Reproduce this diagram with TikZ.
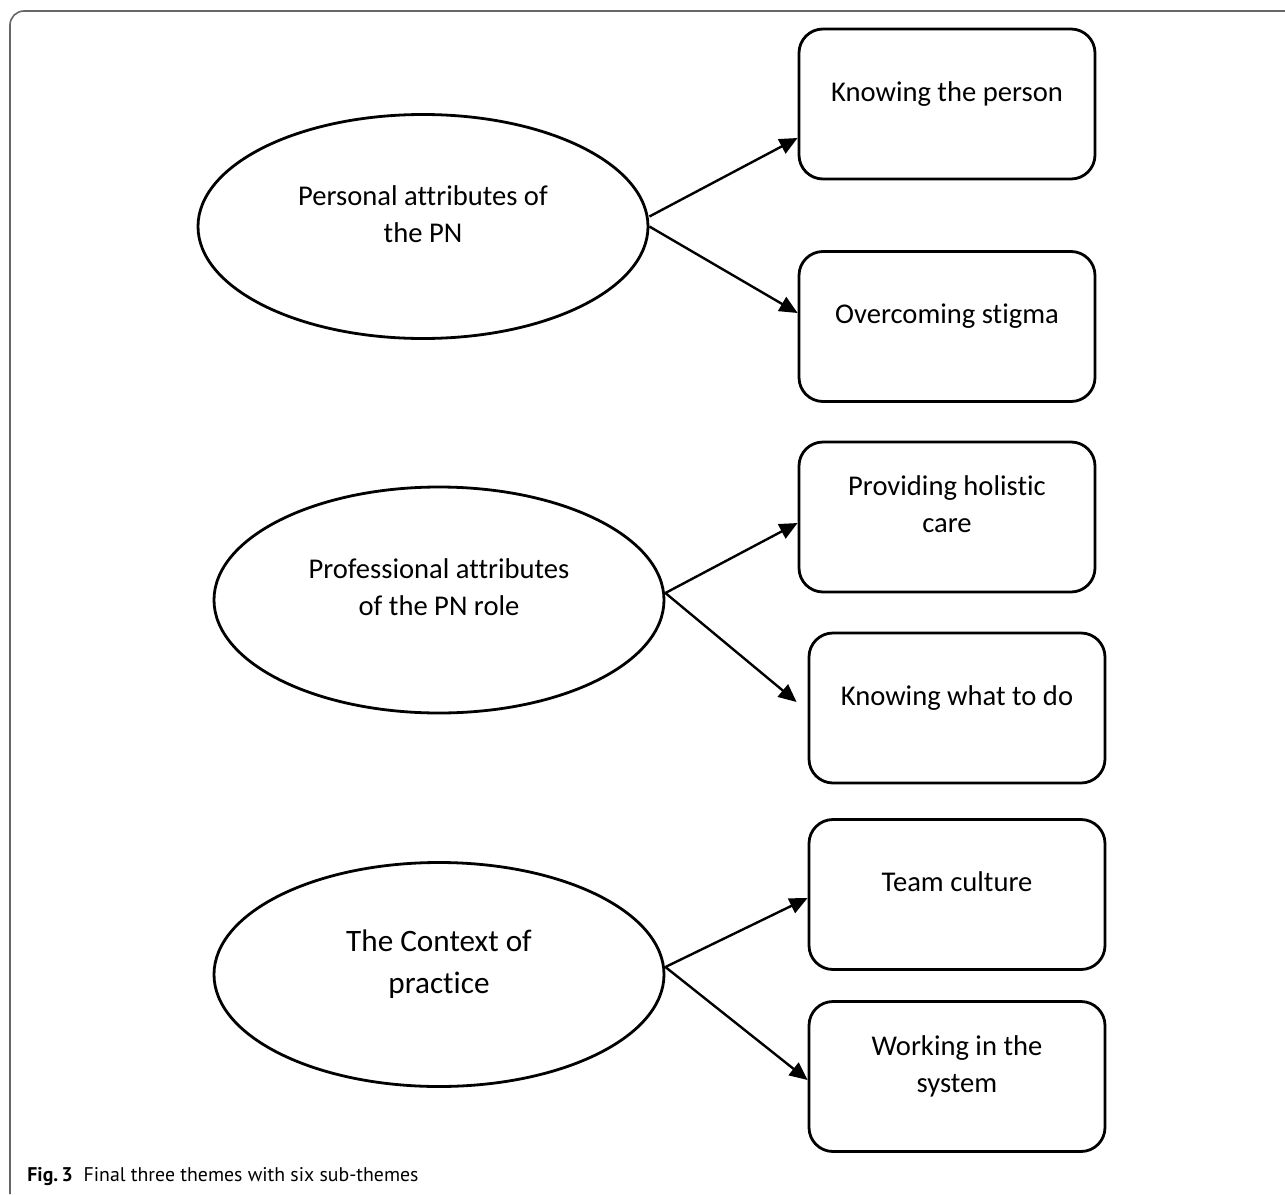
\documentclass[tikz,border=0pt]{standalone}
\usepackage{fontspec}
\setmainfont{Carlito}[Ligatures=NoCommon]
\newfontfamily\capfont{PT Sans}
\usetikzlibrary{arrows.meta,shapes.geometric}

\tikzset{
  theme/.style={ellipse, draw, line width=1.4pt, minimum width=225pt,
    minimum height=112pt, align=center,
    font=\fontsize{14.3}{18.5}\selectfont,
    execute at end node={\rule[-12.5pt]{0pt}{0pt}}},
  subtheme/.style={draw, line width=1.4pt, rounded corners=12pt,
    minimum width=148pt, minimum height=75pt, inner sep=0pt, align=center,
    font=\fontsize{14.3}{18.5}\selectfont,
    execute at end node={\rule[-12.5pt]{0pt}{0pt}}},
  link/.style={-{Triangle[length=9pt,width=8pt]}, line width=1.2pt},
  frame/.style={draw=black!60, line width=0.8pt, rounded corners=7pt}
}

\begin{document}
\begin{tikzpicture}[x=0.5pt, y=-0.5pt]
\useasboundingbox (0,0) rectangle (1285,1194);

\draw[frame] (10,1194) -- (10,11) -- (1285,11);

% themes
\node[theme] (personal) at (423,226.5) {Personal attributes of\\the PN};
\node[theme, minimum height=113pt] (prof) at (439,600) {Professional attributes\\of the PN role};
\node[theme, font=\fontsize{15.6}{21}\selectfont] (context) at (439,974.5) {The Context of\\practice};

% sub-themes
\node[subtheme] (know) at (947,104) {Knowing the person};
\node[subtheme] (stigma) at (947,326.5) {Overcoming stigma};
\node[subtheme] (holistic) at (947,517) {Providing holistic\\care};
\node[subtheme] (whattodo) at (957,708) {Knowing what to do};
\node[subtheme] (team) at (957,894.5) {Team culture};
\node[subtheme] (system) at (957,1076.5) {Working in the\\system};

\draw[link] ([yshift=5pt]personal.east) -- ([yshift=-17pt]know.west);
\draw[link] (personal.east) -- ([yshift=6.75pt]stigma.west);
\draw[link] ([yshift=3.5pt]prof.east) -- ([yshift=-3pt]holistic.west);
\draw[link] ([yshift=3.5pt]prof.east) -- ([xshift=-5.5pt,yshift=3pt]whattodo.west);
\draw[link] ([yshift=3.75pt]context.east) -- ([yshift=-1.75pt]team.west);
\draw[link] ([yshift=3.75pt]context.east) -- ([yshift=-1.75pt]system.west);

\node[anchor=base west, inner sep=0pt, font=\capfont\fontsize{9.9}{12}\selectfont] (caption) at (27,1181)
  {\textbf{Fig.\,3}\hspace{0.55em}Final three themes with six sub-themes};
\end{tikzpicture}
\end{document}
